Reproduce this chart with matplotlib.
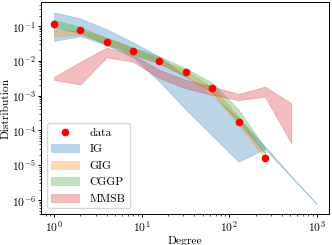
import numpy as np
import matplotlib
matplotlib.use('Agg')
import matplotlib.pyplot as plt

plt.rcParams['font.family'] = 'serif'
plt.rcParams['font.serif'] = ['cmr10']
plt.rcParams['mathtext.fontset'] = 'cm'
plt.rcParams['axes.formatter.use_mathtext'] = True
plt.rcParams['font.size'] = 8.3
plt.rcParams['xtick.major.size'] = 2.3
plt.rcParams['ytick.major.size'] = 2.3
plt.rcParams['xtick.minor.size'] = 1.3
plt.rcParams['ytick.minor.size'] = 1.3
plt.rcParams['xtick.major.pad'] = 1.5
plt.rcParams['ytick.major.pad'] = 1.5
plt.rcParams['axes.linewidth'] = 0.7
plt.rcParams['xtick.major.width'] = 0.7
plt.rcParams['ytick.major.width'] = 0.7
plt.rcParams['xtick.minor.width'] = 0.5
plt.rcParams['ytick.minor.width'] = 0.5

#observed degree distribution
data_deg = [1, 2, 4, 8, 16, 32, 64, 128, 256]
data_val = [0.116, 0.078, 0.035, 0.0195, 0.0099, 0.0049, 0.0017, 1.8e-4, 1.6e-5]

#IG band (log10 bounds)
ig_deg = [1, 2, 4, 8, 16, 32, 64, 128, 256, 512, 1000]
ig_hi = [-0.61, -0.78, -1.095, -1.47, -1.88, -2.45, -3.0, -3.65, -4.45, -5.31, -6.1]
ig_lo = [-1.43, -1.29, -1.55, -1.9, -2.6, -3.4, -4.15, -4.9, -4.53, -5.34, -6.12]

#GIG band
gig_deg = [1, 2, 4, 8, 16, 32, 64, 128, 256]
gig_hi = [-1.115, -1.13, -1.33, -1.63, -1.95, -2.28, -2.75, -3.6, -4.65]
gig_lo = [-1.31, -1.25, -1.5, -1.8, -2.1, -2.45, -2.95, -3.84, -4.8]

#CGGP band
cggp_deg = [1, 2, 4, 8, 16, 32, 64, 128, 256]
cggp_hi = [-0.83, -1.03, -1.35, -1.62, -1.88, -2.21, -2.63, -3.4, -4.5]
cggp_lo = [-1.04, -1.2, -1.55, -1.82, -2.07, -2.45, -2.92, -3.75, -4.65]

#MMSB band
mmsb_deg = [1, 2, 4, 8, 16, 32, 64, 128, 256, 512]
mmsb_hi = [-2.46, -2.03, -1.62, -1.83, -2.26, -2.55, -2.74, -2.95, -2.74, -3.22]
mmsb_lo = [-2.55, -2.68, -1.90, -2.03, -2.50, -2.79, -2.98, -3.13, -3.03, -4.37]

fig = plt.figure(figsize=(3.32, 2.45), dpi=100)
ax = fig.add_axes([0.1235, 0.1265, 0.8675, 0.8655])

ax.plot(data_deg, data_val, 'o', color='red', markersize=4.5, label='data', zorder=5)

bands = [
  ('IG', ig_deg, ig_hi, ig_lo, '#1f77b4'),
  ('GIG', gig_deg, gig_hi, gig_lo, '#ff7f0e'),
  ('CGGP', cggp_deg, cggp_hi, cggp_lo, '#2ca02c'),
  ('MMSB', mmsb_deg, mmsb_hi, mmsb_lo, '#d62728'),
]
for name, deg, hi, lo, col in bands:
  ax.fill_between(deg, 10 ** np.array(lo), 10 ** np.array(hi), color=col, alpha=0.3, linewidth=0.5, label=name)

ax.set_xscale('log')
ax.set_yscale('log')
ax.set_xlim(0.71, 1380)
ax.set_ylim(10 ** -6.4, 10 ** -0.31)
ax.set_xlabel('Degree', labelpad=1)
ax.set_ylabel('Distribution', labelpad=0.5)
ax.legend(loc='lower left', handlelength=2.4, borderpad=0.4, labelspacing=0.55, handletextpad=0.9)

fig.savefig('out.png', dpi=100)
